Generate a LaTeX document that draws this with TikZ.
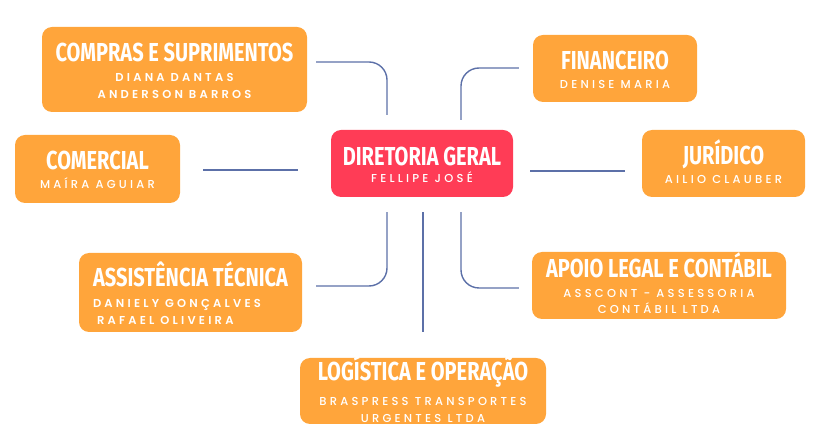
\documentclass[tikz,border=0pt]{standalone}
\usepackage{fontspec}
\usetikzlibrary{calc}
\newfontfamily\headfont[FakeStretch=0.77]{Fira Sans}
\newfontfamily\namefont[LetterSpace=28,UprightFont=* Medium,BoldFont=* SemiBold]{Poppins}
\definecolor{boxorange}{RGB}{255,165,59}
\definecolor{boxred}{RGB}{255,60,86}
\definecolor{linkblue}{RGB}{92,112,168}
\def\ttl#1{{\headfont\bfseries\fontsize{26}{26}\selectfont\smash{#1}\rule{0pt}{21pt}}}
\def\nms{\namefont\fontsize{11.5}{16.5}\selectfont}
\def\deptnode{\node[dept]}
\def\drawlink{\draw[color=linkblue, line width=1.4pt, rounded corners=18pt]}

\begin{document}
\begin{tikzpicture}[x=1pt,y=-1pt,
  dept/.style={rectangle,rounded corners=10pt,fill=boxorange,text=white,
    align=center,inner sep=0pt,font=\nms}]
\useasboundingbox (0,0) rectangle (825,443);

% ---------- the head of the chart
\node[dept,fill=boxred] (diretoria) [minimum width=182pt,minimum height=67pt] at (422,163.5)
  {\ttl{DIRETORIA GERAL}\\[0.5pt]FELLIPE JOSÉ};

% ---------- departments, left side
\deptnode (compras) [minimum width=265pt,minimum height=85pt] at (174.5,69.5)
  {\ttl{COMPRAS E SUPRIMENTOS}\\[3.5pt]{\bfseries DIANA DANTAS}\\{\bfseries ANDERSON BARROS}};
\deptnode (comercial) [minimum width=165pt,minimum height=68pt] at (97.5,169)
  {\ttl{COMERCIAL}\\[2.5pt]MAÍRA AGUIAR};
\deptnode (assistencia) [minimum width=223pt,minimum height=79pt,align=left] at (190.5,292.5)
  {\ttl{ASSISTÊNCIA TÉCNICA}\rule{0pt}{26pt}\\[4.5pt]{\bfseries DANIELY GONÇALVES}\\\hspace*{4pt}{\bfseries RAFAEL OLIVEIRA}};

% ---------- departments, right side
\deptnode (financeiro) [minimum width=164pt,minimum height=67pt] at (615,68.5)
  {\ttl{FINANCEIRO}\\[2.5pt]DENISE MARIA};
\deptnode (juridico) [minimum width=163pt,minimum height=67pt] at (723.5,163.5)
  {\ttl{JURÍDICO}\\[2pt]AILIO CLAUBER};
\deptnode (apoio) [minimum width=254pt,minimum height=67pt] at (659,285.5)
  {\ttl{APOIO LEGAL E CONTÁBIL}\\[3pt]ASSCONT - ASSESSORIA\\CONTÁBIL LTDA};

% ---------- bottom
\deptnode (logistica) [minimum width=246pt,minimum height=66pt] at (423,391)
  {\ttl{LOGÍSTICA E OPERAÇÃO}\\[8.5pt]BRASPRESS TRANSPORTES\\URGENTES LTDA};

% ---------- the links; they stop short of the boxes
\coordinate (compras_out) at ($ (compras.east) + (9,-7.5) $);
\coordinate (top_left) at ($ (diretoria.north) + (-35,-15) $);
\coordinate (comercial_out) at ($ (comercial.east) + (23,1) $);
\coordinate (mid_left) at ($ (diretoria.west) + (-33,6.5) $);
\coordinate (financeiro_out) at ($ (financeiro.west) + (-14,-0.5) $);
\coordinate (top_right) at ($ (diretoria.north) + (39,-10) $);
\coordinate (mid_right) at ($ (diretoria.east) + (17,7.5) $);
\coordinate (juridico_out) at ($ (juridico.west) + (-17,7.5) $);
\coordinate (bottom_left) at ($ (diretoria.south) + (-35,15) $);
\coordinate (assistencia_out) at ($ (assistencia.east) + (14,-6.5) $);
\coordinate (bottom_mid) at ($ (diretoria.south) + (1,15) $);
\coordinate (logistica_out) at ($ (logistica.north) + (0,-26) $);
\coordinate (bottom_right) at ($ (diretoria.south) + (39,15) $);
\coordinate (apoio_out) at ($ (apoio.west) + (-13,2.5) $);

\drawlink (compras_out) -| (top_left);
\drawlink (comercial_out) -- (mid_left);
\drawlink (financeiro_out) -| (top_right);
\drawlink (mid_right) -- (juridico_out);
\drawlink (bottom_left) |- (assistencia_out);
\drawlink (bottom_mid) -- (logistica_out);
\drawlink (bottom_right) |- (apoio_out);
\end{tikzpicture}
\end{document}
